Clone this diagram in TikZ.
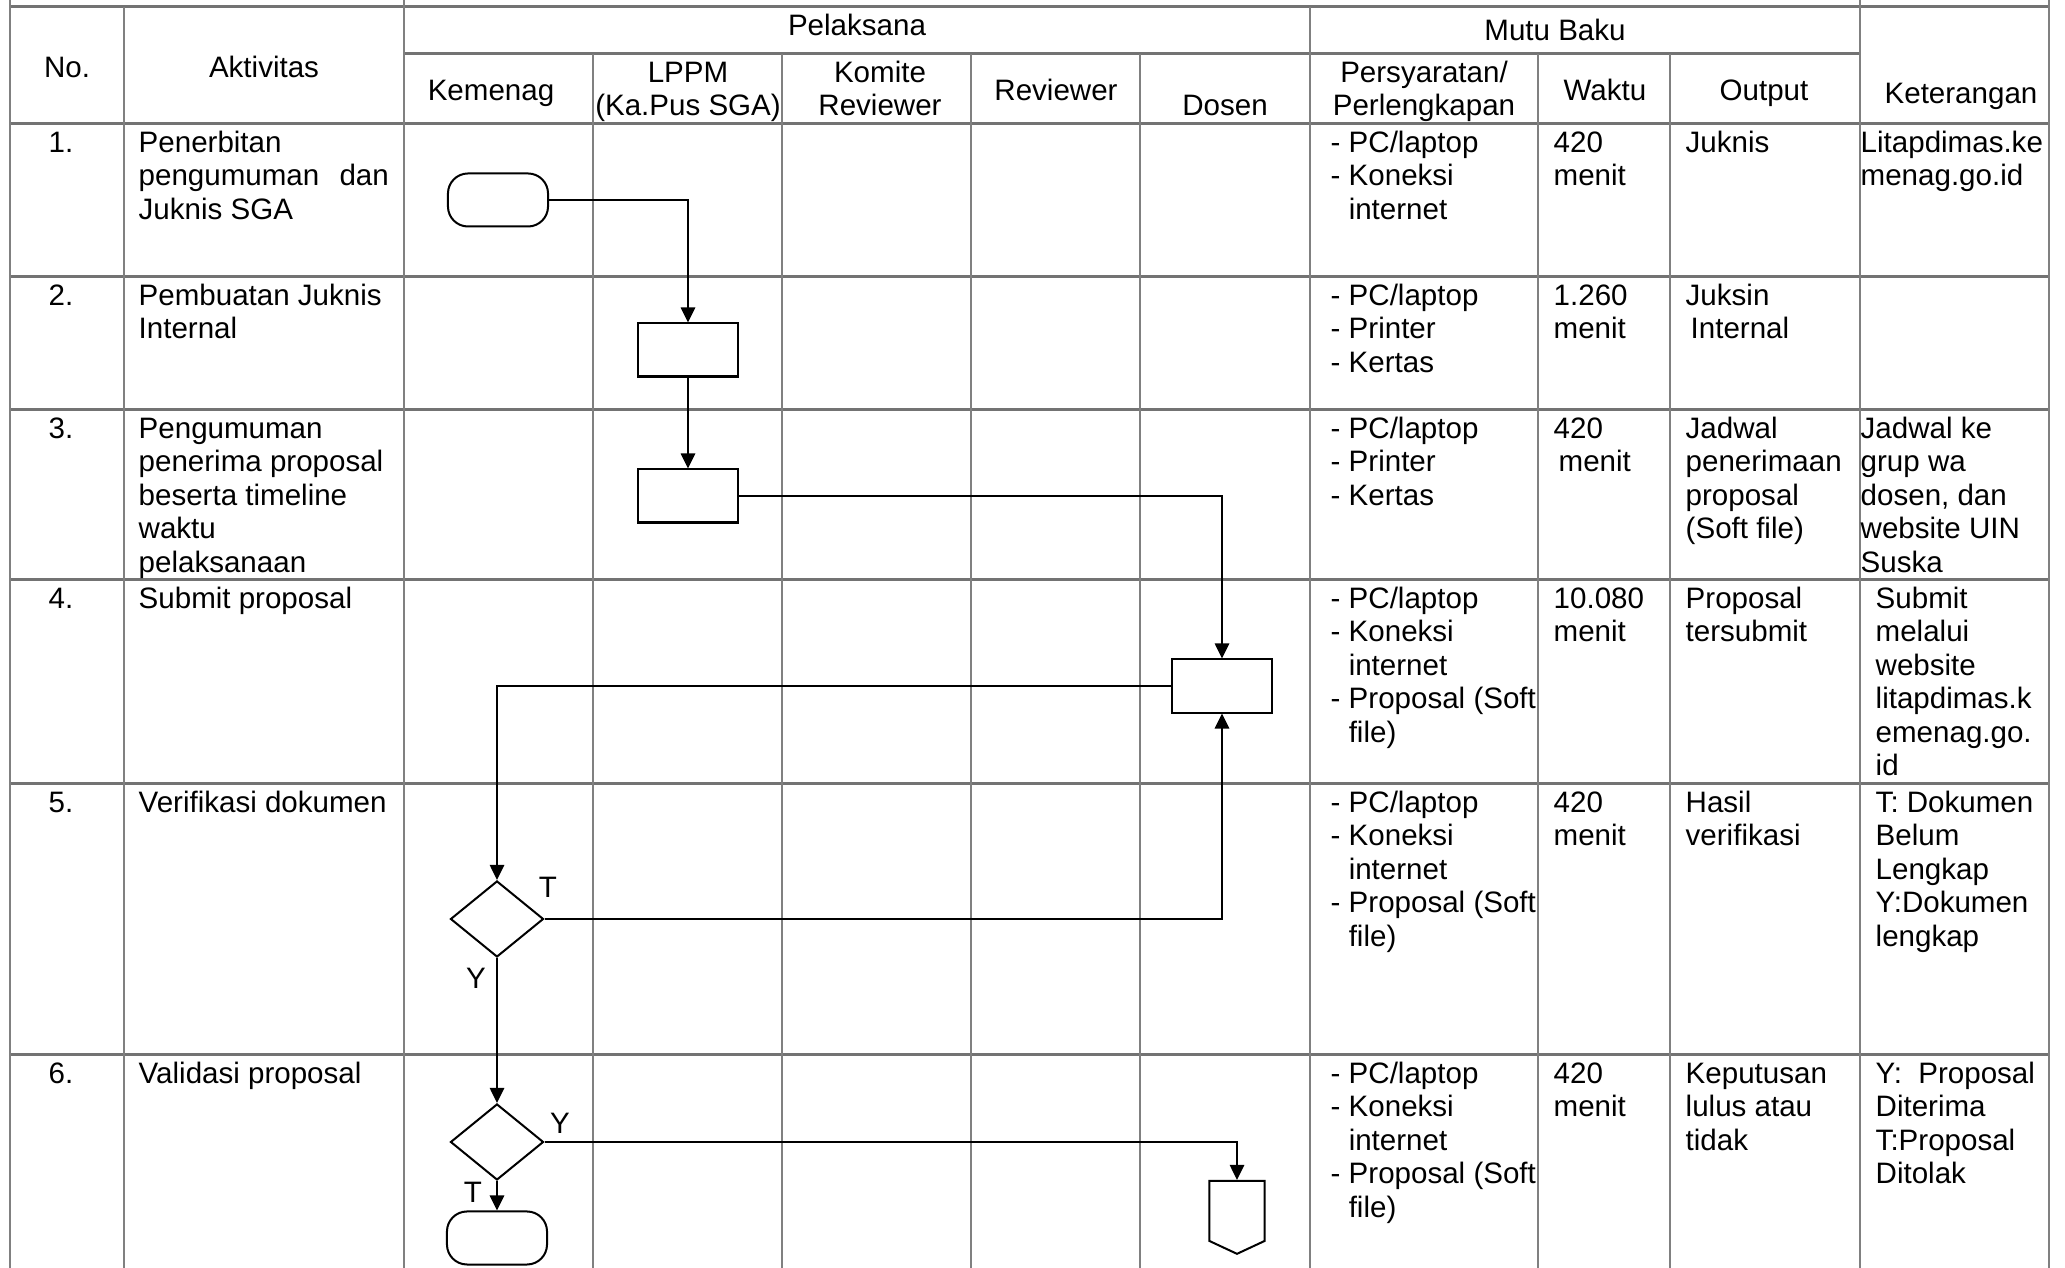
\documentclass[tikz,border=0pt]{standalone}
\usepackage{fontspec}
\setmainfont{Liberation Sans}
\usetikzlibrary{arrows.meta,shapes.geometric,shapes.symbols}
\newcommand{\fsz}{\fontsize{8.4}{9.53}\selectfont}
\newcommand{\fstrut}{\rule{0pt}{7pt}}

\begin{document}
\begin{tikzpicture}[x=0.01cm, y=-0.01cm,
    vline/.style={draw=black!50, line width=0.02cm},
    hline/.style={draw=black!55, line width=0.03cm},
    cell/.style={anchor=north west, inner sep=0pt, align=left, font=\fsz},
    head/.style={cell, anchor=north, align=center},
    shp/.style={draw, line width=0.02cm, inner sep=0pt},
    term/.style={shp, rectangle, rounded corners=0.2cm, minimum width=1cm, minimum height=0.53cm},
    proc/.style={shp, rectangle, minimum width=1cm, minimum height=0.53cm},
    dec/.style={shp, diamond, minimum width=0.93cm, minimum height=0.76cm},
    offp/.style={shp, signal, signal to=south, signal pointer angle=130, minimum width=0.55cm, minimum height=0.6cm},
    lbl/.style={font=\fsz, inner sep=0pt},
    flow/.style={-{Triangle[length=0.15cm, width=0.14cm]}, line width=0.027cm}
]
\useasboundingbox (0,0) rectangle (2065,1268);

% table lines
\foreach \y in {7,124,277,410,580,784,1055}
    \draw[hline] (10,\y) -- (2049,\y);
\draw[hline] (404,54) -- (1860,54);
\foreach \x in {10,404,1860,2049}
    \draw[vline] (\x,0) -- (\x,1268);
\foreach \x in {124,1310}
    \draw[vline] (\x,7) -- (\x,1268);
\foreach \x in {593,782,971,1140,1538,1670}
    \draw[vline] (\x,54) -- (\x,1268);

% header
\node[head] (hno) at (67,52) {\fstrut No.};
\node[head] (hakt) at (264,52) {\fstrut Aktivitas};
\node[head] (hpel) at (857,10) {\fstrut Pelaksana};
\node[head] (hmutu) at (1555,15) {\fstrut Mutu Baku};
\node[head] (hkem) at (491,75) {\fstrut Kemenag};
\node[head] (hlppm) at (688,57) {\fstrut LPPM\\(Ka.Pus SGA)};
\node[head] (hkom) at (880,57) {\fstrut Komite\\Reviewer};
\node[head] (hrev) at (1056,75) {\fstrut Reviewer};
\node[head] (hdos) at (1225,90) {\fstrut Dosen};
\node[head] (hsyarat) at (1424,57) {\fstrut Persyaratan/\\Perlengkapan};
\node[head] (hwaktu) at (1605,75) {\fstrut Waktu};
\node[head] (hout) at (1764,75) {\fstrut Output};
\node[head] (hket) at (1961,78) {\fstrut Keterangan};

% row 1
\node[cell] (n1) at (48,127) {\fstrut 1.};
\node[cell] (a1) at (138,127) {\fstrut Penerbitan\\\makebox[2.5cm][s]{pengumuman dan}\\Juknis SGA};
\node[cell] (p1) at (1330,127) {\fstrut - PC/laptop\\- Koneksi\\\phantom{- }internet};
\node[cell] (w1) at (1553,127) {\fstrut 420\\menit};
\node[cell] (o1) at (1685,127) {\fstrut Juknis};
\node[cell] (k1) at (1860,127) {\fstrut Litapdimas.ke\\menag.go.id};

% row 2
\node[cell] (n2) at (48,280) {\fstrut 2.};
\node[cell] (a2) at (138,280) {\fstrut Pembuatan Juknis\\Internal};
\node[cell] (p2) at (1330,280) {\fstrut - PC/laptop\\- Printer\\- Kertas};
\node[cell] (w2) at (1553,280) {\fstrut 1.260\\menit};
\node[cell] (o2) at (1685,280) {\fstrut Juksin\\\hspace{0.05cm}Internal};

% row 3
\node[cell] (n3) at (48,413) {\fstrut 3.};
\node[cell] (a3) at (138,413) {\fstrut Pengumuman\\penerima proposal\\beserta timeline\\waktu\\pelaksanaan};
\node[cell] (p3) at (1330,413) {\fstrut - PC/laptop\\- Printer\\- Kertas};
\node[cell] (w3) at (1553,413) {\fstrut 420\\\hspace{0.05cm}menit};
\node[cell] (o3) at (1685,413) {\fstrut Jadwal\\penerimaan\\proposal\\(Soft file)};
\node[cell] (k3) at (1860,413) {\fstrut Jadwal ke\\grup wa\\dosen, dan\\website UIN\\Suska};

% row 4
\node[cell] (n4) at (48,583) {\fstrut 4.};
\node[cell] (a4) at (138,583) {\fstrut Submit proposal};
\node[cell] (p4) at (1330,583) {\fstrut - PC/laptop\\- Koneksi\\\phantom{- }internet\\- Proposal (Soft\\\phantom{- }file)};
\node[cell] (w4) at (1553,583) {\fstrut 10.080\\menit};
\node[cell] (o4) at (1685,583) {\fstrut Proposal\\tersubmit};
\node[cell] (k4) at (1875,583) {\fstrut Submit\\melalui\\website\\litapdimas.k\\emenag.go.\\id};

% row 5
\node[cell] (n5) at (48,787) {\fstrut 5.};
\node[cell] (a5) at (138,787) {\fstrut Verifikasi dokumen};
\node[cell] (p5) at (1330,787) {\fstrut - PC/laptop\\- Koneksi\\\phantom{- }internet\\- Proposal (Soft\\\phantom{- }file)};
\node[cell] (w5) at (1553,787) {\fstrut 420\\menit};
\node[cell] (o5) at (1685,787) {\fstrut Hasil\\verifikasi};
\node[cell] (k5) at (1875,787) {\fstrut T: Dokumen\\Belum\\Lengkap\\Y:Dokumen\\lengkap};

% row 6
\node[cell] (n6) at (48,1058) {\fstrut 6.};
\node[cell] (a6) at (138,1058) {\fstrut Validasi proposal};
\node[cell] (p6) at (1330,1058) {\fstrut - PC/laptop\\- Koneksi\\\phantom{- }internet\\- Proposal (Soft\\\phantom{- }file)};
\node[cell] (w6) at (1553,1058) {\fstrut 420\\menit};
\node[cell] (o6) at (1685,1058) {\fstrut Keputusan\\lulus atau\\tidak};
\node[cell] (k6) at (1875,1058) {\fstrut Y:\ \ Proposal\\Diterima\\T:Proposal\\Ditolak};

% flow
\node[term] (t1) at (498,200) {};
\node[proc] (b2) at (688,350) {};
\node[proc] (b3) at (688,496) {};
\node[proc] (b4) at (1222,686) {};
\node[dec] (d5) at (497,919) {};
\node[dec] (d6) at (497,1142) {};
\node[term] (t2) at (497,1238) {};
\node[offp] (off) at (1237,1211) {};

\draw[flow] (t1) -| (b2);
\draw[flow] (b2) -- (b3);
\draw[flow] (b3) -| (b4);
\draw[flow] (b4) -| (d5);
\draw[flow] (d5) -| (b4);
\draw[flow] (d5) -- (d6);
\draw[flow] (d6) -| (off);
\draw[flow] (d6) -- (t2);

\node[lbl] (lt5) at (548,887) {T};
\node[lbl] (ly5) at (476,978) {Y};
\node[lbl] (ly6) at (560,1123) {Y};
\node[lbl] (lt6) at (473,1192) {T};
\end{tikzpicture}
\end{document}
